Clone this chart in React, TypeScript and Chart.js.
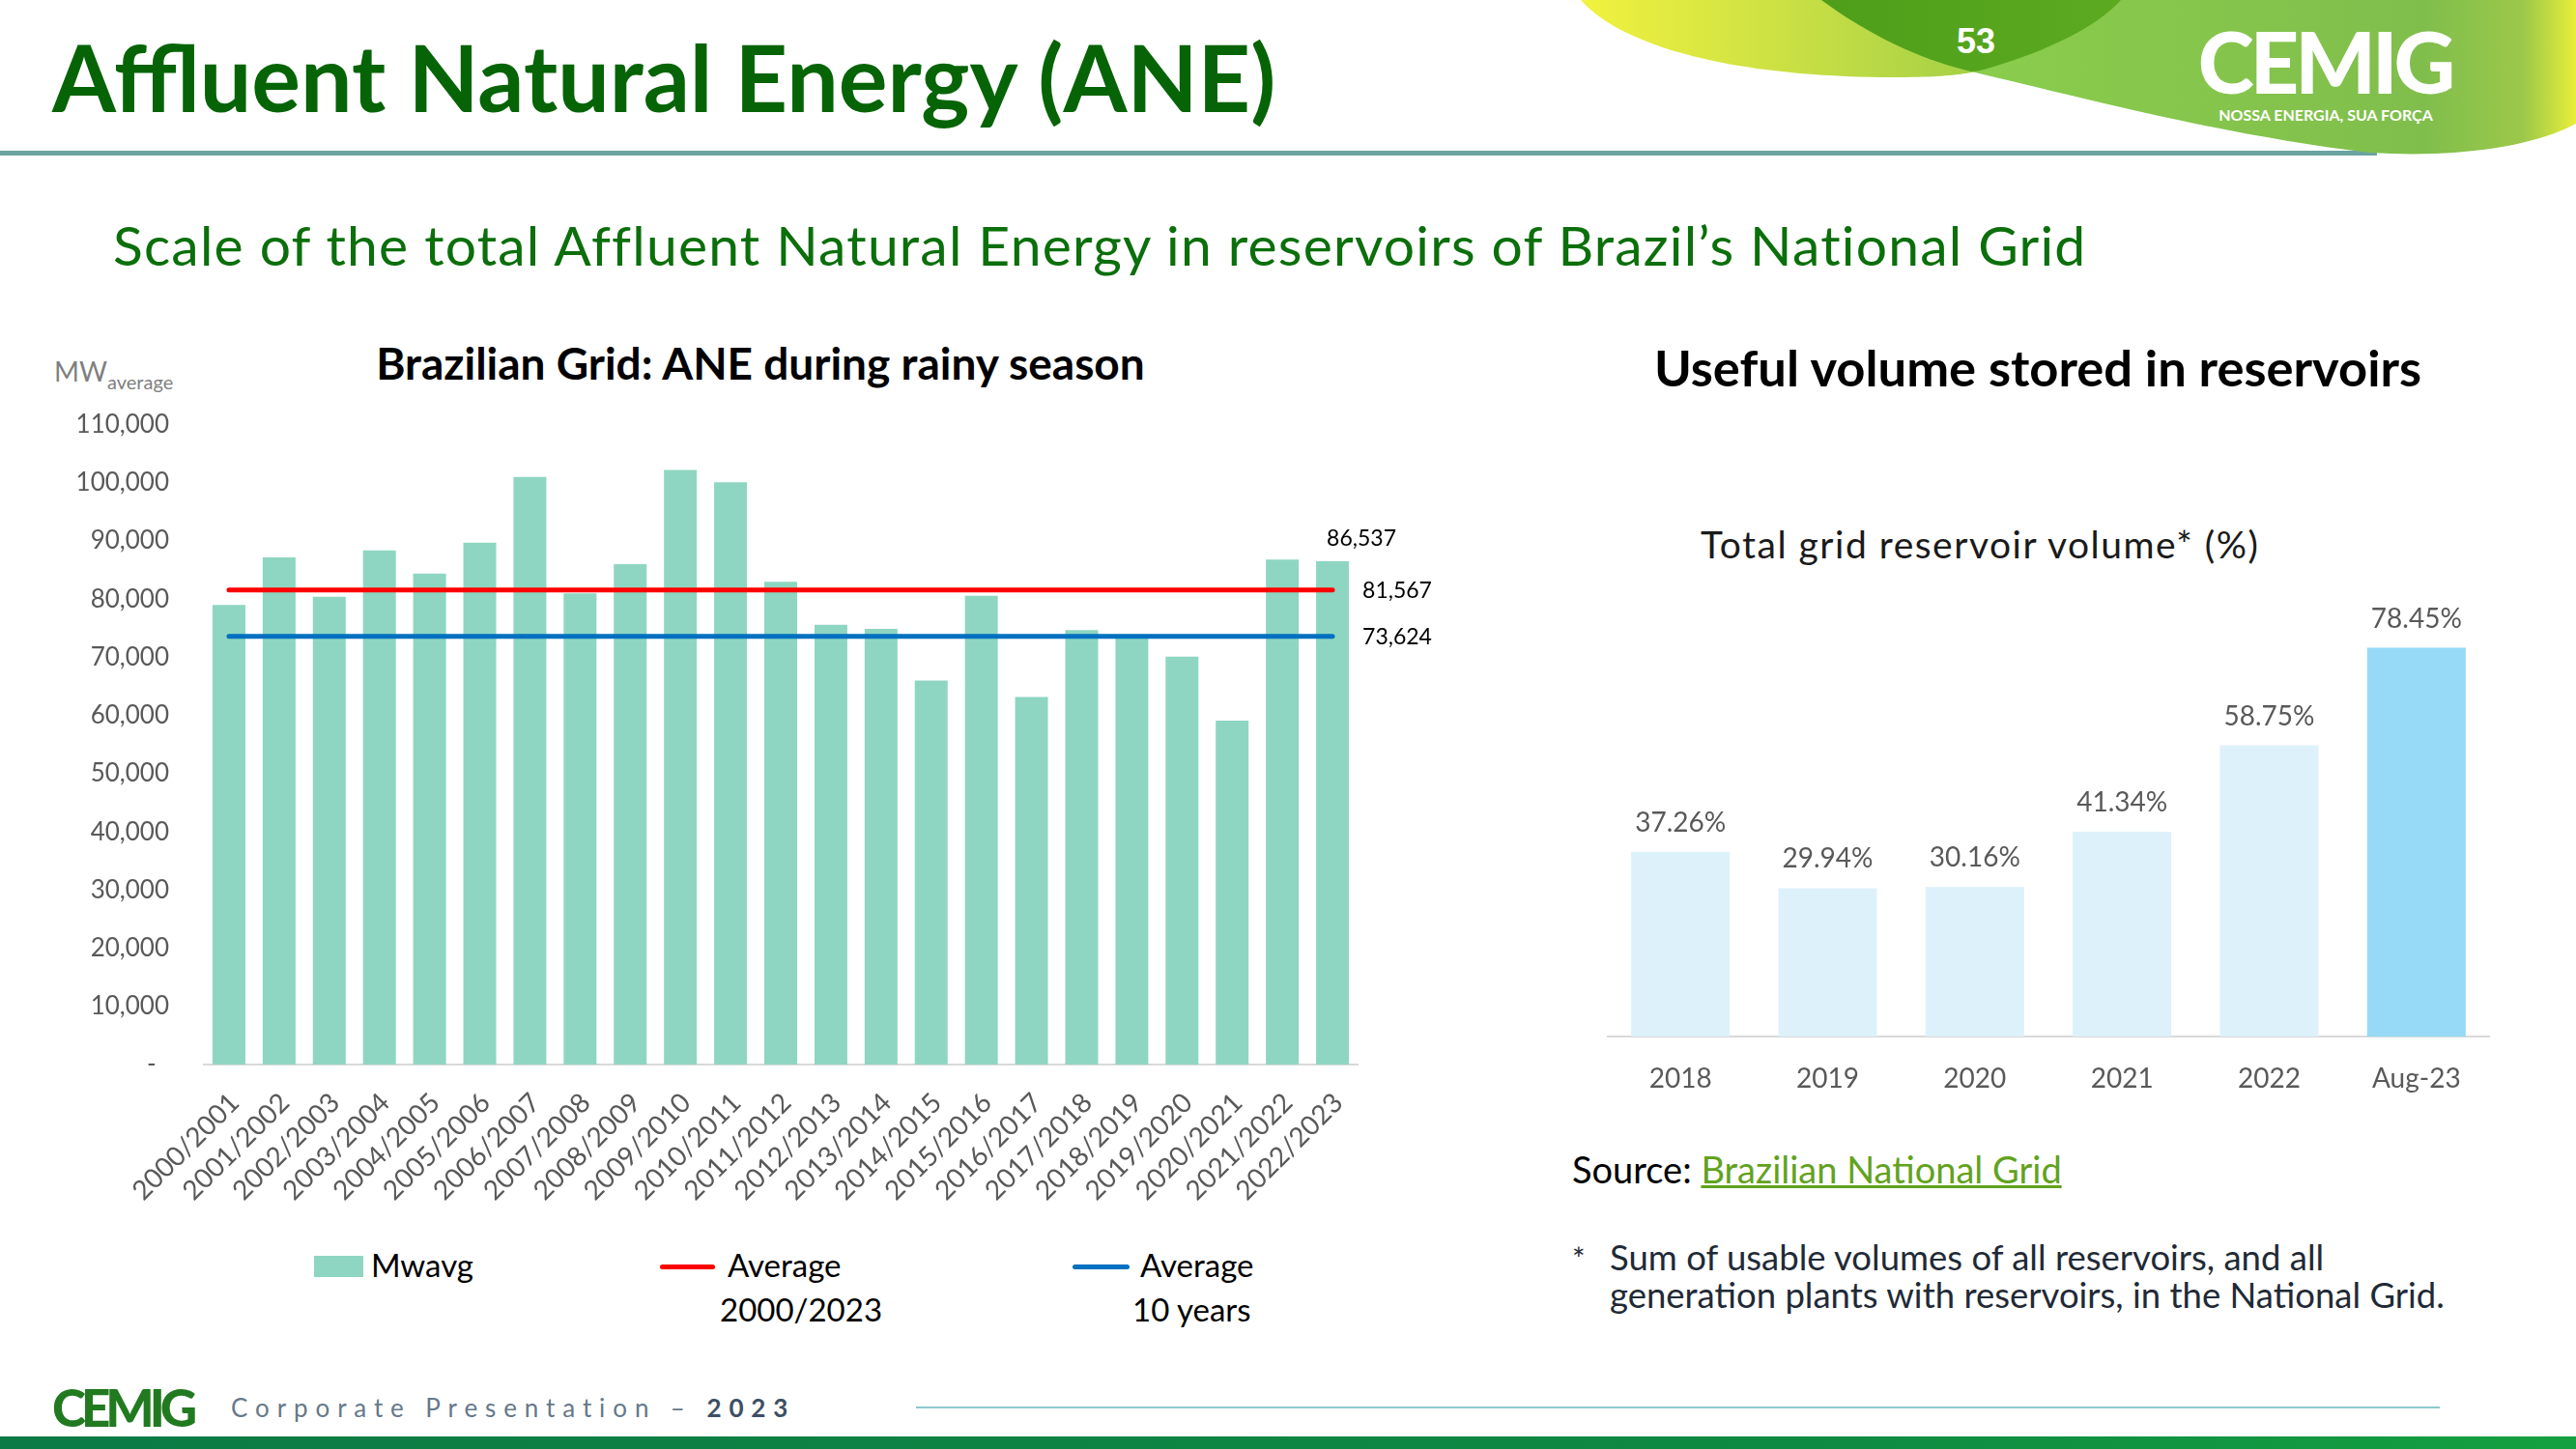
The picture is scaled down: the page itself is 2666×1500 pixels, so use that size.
import React, { useEffect, useRef } from 'react';
import { Chart, registerables } from 'chart.js';

Chart.register(...registerables);

// ---------- data ----------
const aneCategories = [
  '2000/2001', '2001/2002', '2002/2003', '2003/2004', '2004/2005', '2005/2006',
  '2006/2007', '2007/2008', '2008/2009', '2009/2010', '2010/2011', '2011/2012',
  '2012/2013', '2013/2014', '2014/2015', '2015/2016', '2016/2017', '2017/2018',
  '2018/2019', '2019/2020', '2020/2021', '2021/2022', '2022/2023',
];
const aneValues = [
  79000, 87200, 80400, 88400, 84400, 89700, 101000, 81000, 86000, 102200, 100100, 83000,
  75600, 74900, 66000, 80600, 63200, 74700, 73500, 70100, 59100, 86800, 86537,
];
const aneAverageAll = 81567;
const aneAverage10 = 73624;
const aneYMax = 110000;
const aneYStep = 10000;

const resCategories = ['2018', '2019', '2020', '2021', '2022', 'Aug-23'];
const resValues = [37.26, 29.94, 30.16, 41.34, 58.75, 78.45];
const resYMax = 100;

// ---------- styles ----------
const BAR_TEAL = '#8ED6C1';
const RED = '#FF0000';
const BLUE = '#0070C0';
const PALE = '#DDF1FB';
const SKY = '#97DAF7';
const TICK_GREY = '#595959';
const FONT = 'Lato';

const fmt = (v: number) => v.toLocaleString('en-US');

type TProps = {
  x: number;
  baseline: number;
  size: number;
  width?: number;
  align?: 'left' | 'center' | 'right';
  style?: React.CSSProperties;
  children?: React.ReactNode;
};

const T = ({ x, baseline, size, width, align, style, children }: TProps) => (
  <div
    style={{
      position: 'absolute',
      left: x,
      top: baseline - 0.887 * size,
      fontSize: size,
      lineHeight: 1,
      whiteSpace: 'nowrap',
      fontFamily: FONT,
      width,
      textAlign: align || 'left',
      ...style,
    }}
  >
    {children}
  </div>
);

const aneLabelPlugin = {
  id: 'aneLabels',
  afterDatasetsDraw(chart: any) {
    const ctx = chart.ctx;
    ctx.save();
    ctx.font = `23px ${FONT}`;
    ctx.fillStyle = '#000000';
    const barMeta = chart.getDatasetMeta(2);
    const lastIdx = aneValues.length - 1;
    const bar = barMeta.data[lastIdx];
    ctx.textAlign = 'center';
    ctx.textBaseline = 'middle';
    ctx.fillText(fmt(aneValues[lastIdx]), bar.x + 30, bar.y - 23);
    const lineVals = [aneAverageAll, aneAverage10];
    [0, 1].forEach((i) => {
      const meta = chart.getDatasetMeta(i);
      const p = meta.data[meta.data.length - 1];
      ctx.textAlign = 'left';
      ctx.fillText(fmt(lineVals[i]), p.x + 31, p.y + 1);
    });
    ctx.restore();
  },
};

const resLabelPlugin = {
  id: 'resLabels',
  afterDatasetsDraw(chart: any) {
    const ctx = chart.ctx;
    ctx.save();
    ctx.font = `28px ${FONT}`;
    ctx.fillStyle = TICK_GREY;
    ctx.textAlign = 'center';
    ctx.textBaseline = 'middle';
    const meta = chart.getDatasetMeta(0);
    meta.data.forEach((el: any, i: number) => {
      ctx.fillText(resValues[i].toFixed(2) + '%', el.x, el.y - 30);
    });
    ctx.restore();
  },
};

function AneChart() {
  const ref = useRef<HTMLCanvasElement>(null);
  useEffect(() => {
    if (!ref.current) return;
    const chart = new Chart(ref.current, {
      type: 'bar',
      data: {
        labels: aneCategories,
        datasets: [
          {
            type: 'line',
            label: 'Average 2000/2023',
            data: aneCategories.map(() => aneAverageAll),
            borderColor: RED,
            borderWidth: 5,
            borderCapStyle: 'round',
            pointRadius: 0,
            order: 0,
          } as any,
          {
            type: 'line',
            label: 'Average 10 years',
            data: aneCategories.map(() => aneAverage10),
            borderColor: BLUE,
            borderWidth: 5,
            borderCapStyle: 'round',
            pointRadius: 0,
            order: 0,
          } as any,
          {
            type: 'bar',
            label: 'Mwavg',
            data: aneValues,
            backgroundColor: BAR_TEAL,
            categoryPercentage: 1,
            barPercentage: 0.655,
            order: 2,
          },
        ],
      },
      options: {
        animation: false,
        responsive: false,
        maintainAspectRatio: false,
        layout: { padding: { top: 0, right: 95, left: 0, bottom: 0 } },
        plugins: {
          legend: { display: false },
          tooltip: { enabled: false },
        },
        scales: {
          x: {
            offset: true,
            grid: { display: false, drawTicks: false },
            border: { display: true, color: '#D9D9D9', width: 2 },
            ticks: {
              autoSkip: false,
              maxRotation: 45,
              minRotation: 45,
              color: TICK_GREY,
              font: { family: FONT, size: 28 },
              padding: 23,
              labelOffset: 6,
            },
            afterFit: (s: any) => {
              s.height = 150;
            },
          },
          y: {
            min: 0,
            max: aneYMax,
            grid: { display: false, drawTicks: false },
            border: { display: false },
            ticks: {
              stepSize: aneYStep,
              color: TICK_GREY,
              font: { family: FONT, size: 26 },
              padding: 36,
              callback: (v: any) => (Number(v) === 0 ? '-  ' : fmt(Number(v))),
            },
            afterFit: (s: any) => {
              s.width = 171;
            },
          },
        },
      },
      plugins: [aneLabelPlugin],
    });
    return () => chart.destroy();
  }, []);
  return (
    <canvas
      ref={ref}
      width={1460}
      height={864}
      style={{ position: 'absolute', left: 40, top: 388, width: 1460, height: 864 }}
    />
  );
}

function ResChart() {
  const ref = useRef<HTMLCanvasElement>(null);
  useEffect(() => {
    if (!ref.current) return;
    const chart = new Chart(ref.current, {
      type: 'bar',
      data: {
        labels: resCategories,
        datasets: [
          {
            label: 'Total grid reservoir volume (%)',
            data: resValues,
            backgroundColor: resCategories.map((_, i) => (i === resCategories.length - 1 ? SKY : PALE)),
            categoryPercentage: 1,
            barPercentage: 0.67,
          },
        ],
      },
      options: {
        animation: false,
        responsive: false,
        maintainAspectRatio: false,
        layout: { padding: { top: 20, right: 0, left: 0, bottom: 0 } },
        plugins: {
          legend: { display: false },
          tooltip: { enabled: false },
        },
        scales: {
          x: {
            offset: true,
            grid: { display: false, drawTicks: false },
            border: { display: true, color: '#D9D9D9', width: 2 },
            ticks: {
              color: TICK_GREY,
              font: { family: FONT, size: 28 },
              padding: 27,
            },
            afterFit: (s: any) => {
              s.height = 80;
            },
          },
          y: {
            display: false,
            min: 0,
            max: resYMax,
          },
        },
      },
      plugins: [resLabelPlugin],
    });
    return () => chart.destroy();
  }, []);
  return (
    <canvas
      ref={ref}
      width={914}
      height={613}
      style={{ position: 'absolute', left: 1663, top: 540, width: 914, height: 613 }}
    />
  );
}

function TopRightArt() {
  return (
    <svg
      width={2666}
      height={180}
      style={{ position: 'absolute', left: 0, top: 0 }}
      viewBox="0 0 2666 180"
    >
      <defs>
        <linearGradient id="gLeft" x1="1635" x2="2200" y1="0" y2="0" gradientUnits="userSpaceOnUse">
          <stop offset="0" stopColor="#F2F23E" />
          <stop offset="0.55" stopColor="#B8D846" />
          <stop offset="1" stopColor="#86C440" />
        </linearGradient>
        <linearGradient id="gRight" x1="1885" x2="2666" y1="0" y2="0" gradientUnits="userSpaceOnUse">
          <stop offset="0" stopColor="#8ED24C" />
          <stop offset="0.8" stopColor="#80BE4C" />
          <stop offset="0.93" stopColor="#9CC84A" />
          <stop offset="1" stopColor="#E8EE3A" />
        </linearGradient>
        <linearGradient id="gMid" x1="1885" x2="2195" y1="0" y2="0" gradientUnits="userSpaceOnUse">
          <stop offset="0" stopColor="#4E9E1A" />
          <stop offset="1" stopColor="#5CAA20" />
        </linearGradient>
      </defs>
      <path d="M0,156 L2460,156 L2460,161 L0,161 Z" fill="#6AA3A0" />
      <path d="M1636,0 C1680,50 1800,80 1960,80 C2020,80 2040,76 2060,70 C2120,52 2170,28 2195,0 Z" fill="url(#gLeft)" />
      <path
        d="M1885,0 C1940,40 1990,62 2040,74 C2150,100 2300,140 2452,158 C2550,164 2625,150 2666,128 L2666,0 Z"
        fill="url(#gRight)"
      />
      <path d="M1885,0 L2195,0 C2170,28 2120,52 2060,70 C2050,73 2045,74 2040,74 C1990,62 1940,40 1885,0 Z" fill="url(#gMid)" />
      <text
        x={2045}
        y={55}
        textAnchor="middle"
        fill="#FFFFFF"
        style={{ font: 'bold 36px "Liberation Sans"' }}
      >
        53
      </text>
      <text
        x={2406}
        y={97}
        textAnchor="middle"
        fill="#FFFFFF"
        style={{ font: `900 88px ${FONT}`, letterSpacing: '-4px' }}
      >
        CEMIG
      </text>
      <text
        x={2407}
        y={125}
        textAnchor="middle"
        fill="#FFFFFF"
        style={{ font: `bold 16px ${FONT}` }}
      >
        NOSSA ENERGIA, SUA FORÇA
      </text>
    </svg>
  );
}

export default function App() {
  return (
    <div
      style={{
        position: 'fixed',
        left: 0,
        top: 0,
        width: 2666,
        height: 1500,
        background: '#FFFFFF',
        overflow: 'hidden',
        fontFamily: FONT,
      }}
    >
      <TopRightArt />
      <T x={54} baseline={116} size={95} style={{ fontWeight: 700, color: '#066406' }}>
        Affluent Natural Energy (ANE)
      </T>
      <T x={117} baseline={276} size={57} style={{ color: '#0B6F0B', letterSpacing: 1.2 }}>
        Scale of the total Affluent Natural Energy in reservoirs of Brazil’s National Grid
      </T>

      {/* left chart */}
      <T x={56} baseline={395} size={28} style={{ color: '#7F7F7F' }}>
        MW<span style={{ fontSize: 20, position: 'relative', top: 8 }}>average</span>
      </T>
      <T x={337} baseline={394} size={46} width={900} align="center" style={{ fontWeight: 700, color: '#000' }}>
        Brazilian Grid: ANE during rainy season
      </T>
      <AneChart />

      {/* legend */}
      <div style={{ position: 'absolute', left: 325, top: 1300, width: 51, height: 22, background: BAR_TEAL }} />
      <T x={384} baseline={1322} size={33} style={{ color: '#000' }}>
        Mwavg
      </T>
      <div style={{ position: 'absolute', left: 683, top: 1309, width: 57, height: 5, borderRadius: 3, background: RED }} />
      <T x={753} baseline={1322} size={33} style={{ color: '#000' }}>
        Average
      </T>
      <T x={745} baseline={1368} size={33} style={{ color: '#000' }}>
        2000/2023
      </T>
      <div style={{ position: 'absolute', left: 1110, top: 1309, width: 59, height: 5, borderRadius: 3, background: BLUE }} />
      <T x={1180} baseline={1322} size={33} style={{ color: '#000' }}>
        Average
      </T>
      <T x={1172} baseline={1368} size={33} style={{ color: '#000' }}>
        10 years
      </T>

      {/* right chart */}
      <T x={1609} baseline={401} size={52.5} width={1000} align="center" style={{ fontWeight: 700, color: '#000' }}>
        Useful volume stored in reservoirs
      </T>
      <T x={1760} baseline={579} size={39} style={{ color: '#1A1A1A', letterSpacing: 1.5 }}>
        Total grid reservoir volume* (%)
      </T>
      <ResChart />

      <T x={1627} baseline={1225} size={38} style={{ color: '#000' }}>
        Source:{' '}
        <span style={{ color: '#62A21E', textDecoration: 'underline' }}>Brazilian National Grid</span>
      </T>
      <T x={1627} baseline={1315} size={32} style={{ color: '#1F2A36' }}>
        *
      </T>
      <T x={1666} baseline={1315} size={36.5} style={{ color: '#1F2A36' }}>
        Sum of usable volumes of all reservoirs, and all
      </T>
      <T x={1666} baseline={1354} size={36.5} style={{ color: '#1F2A36' }}>
        generation plants with reservoirs, in the National Grid.
      </T>

      {/* footer */}
      <T x={54} baseline={1477} size={53} style={{ fontWeight: 900, color: '#217A1F', letterSpacing: -5 }}>
        CEMIG
      </T>
      <T x={239} baseline={1467} size={26} style={{ color: '#66788A', letterSpacing: 7.9 }}>
        Corporate Presentation –{' '}
        <span style={{ fontWeight: 700, color: '#3D4F63' }}>2023</span>
      </T>
      <div style={{ position: 'absolute', left: 948, top: 1456, width: 1577, height: 2, background: '#8CC8CB' }} />
      <div
        style={{
          position: 'absolute',
          left: 0,
          top: 1487,
          width: 2666,
          height: 13,
          background: 'linear-gradient(90deg, #0B7A45 0%, #0E8A42 70%, #14A040 100%)',
        }}
      />
    </div>
  );
}
